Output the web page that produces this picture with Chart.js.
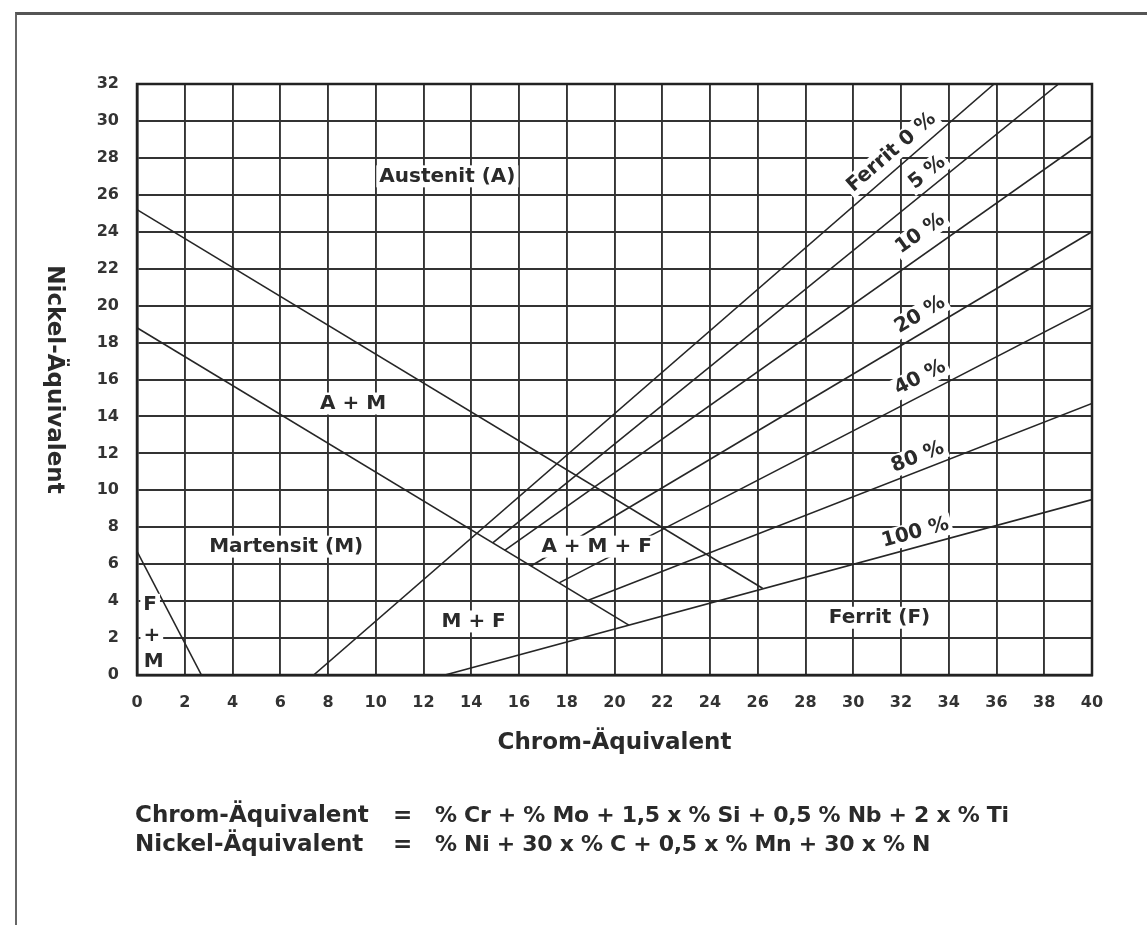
<!DOCTYPE html>
<html>
<head>
<meta charset="utf-8">
<script src="https://cdn.jsdelivr.net/npm/chart.js@4.4.1/dist/chart.umd.min.js"></script>
<style>
  html, body { margin: 0; padding: 0; background: #fff; }
  body { width: 1147px; height: 925px; position: relative; overflow: hidden; }
  #frame { position: absolute; left: 15px; top: 12px; width: 1200px; height: 1000px;
           border-left: 2px solid #666; border-top: 3px solid #555; }
  #c { position: absolute; left: 0; top: 0; }
  .f { position: absolute; font-family: "DejaVu Sans", sans-serif; font-weight: bold; font-size: 23px; color: #2a2a2a; white-space: pre; }
  .e { font-size: 22px; letter-spacing: -0.3px; }
</style>
</head>
<body>
<div id="frame"></div>
<canvas id="c" width="1147" height="925"></canvas>
<div class="f" style="left:135px; top:801px;">Chrom-Äquivalent</div>
<div class="f" style="left:393px; top:801px;">=</div>
<div class="f e" style="left:435px; top:802px;">% Cr + % Mo + 1,5 x % Si + 0,5 % Nb + 2 x % Ti</div>
<div class="f" style="left:135px; top:830px;">Nickel-Äquivalent</div>
<div class="f" style="left:393px; top:830px;">=</div>
<div class="f e" style="left:435px; top:831px;">% Ni + 30 x % C + 0,5 x % Mn + 30 x % N</div>
<script>
// ---- axis ticks ----
const xTicks = [0,2,4,6,8,10,12,14,16,18,20,22,24,26,28,30,32,34,36,38,40];
const yTicks = [0,2,4,6,8,10,12,14,16,18,20,22,24,26,28,30,32];

// ---- ferrite iso-lines (Chrom-Äq., Nickel-Äq.) ----
const ferritNames   = ['Ferrit 0 %', '5 %', '10 %', '20 %', '40 %', '80 %', '100 %'];
const ferritStartCr = [7.4, 14.9, 15.4, 16.5, 17.7, 18.9, 12.9];
const ferritStartNi = [0.0, 7.15, 6.75, 5.9, 5.0, 4.05, 0.0];
const ferritEndCr   = [35.9, 38.6, 40, 40, 40, 40, 40];
const ferritEndNi   = [32, 32, 29.2, 24.0, 19.9, 14.7, 9.5];
// label anchor of each ferrite line
const ferritLabelCr = [31.6, 33.1, 32.8, 32.8, 32.8, 32.7, 32.6];
const ferritLabelNi = [28.3, 27.2, 23.9, 19.5, 16.1, 11.8, 7.7];

// ---- phase boundaries ----
const austenitBoundaryCr = [0, 26.2];
const austenitBoundaryNi = [25.2, 4.7];
const martensitBoundaryCr = [0, 20.6];
const martensitBoundaryNi = [18.8, 2.7];
const fmBoundaryCr = [0, 2.7];
const fmBoundaryNi = [6.7, 0];

// ---- region labels ----
const regionNames = ['Austenit (A)', 'A + M', 'Martensit (M)', 'M + F', 'A + M + F', 'Ferrit (F)', 'F', '+', 'M'];
const regionCr    = [13.0, 9.05, 6.25, 14.1, 19.25, 31.1, 0.55, 0.62, 0.7];
const regionNi    = [27.0, 14.7, 6.95, 2.9, 6.95, 3.1, 3.8, 2.1, 0.7];

const lineColor = '#262626';
function seg(cr, ni) { return cr.map((v, i) => ({x: v, y: ni[i]})); }

const datasets = [];
ferritNames.forEach((n, i) => {
  datasets.push({ label: n, data: seg([ferritStartCr[i], ferritEndCr[i]], [ferritStartNi[i], ferritEndNi[i]]) });
});
datasets.push({ label: 'A / A+M', data: seg(austenitBoundaryCr, austenitBoundaryNi) });
datasets.push({ label: 'M / A+M', data: seg(martensitBoundaryCr, martensitBoundaryNi) });
datasets.push({ label: 'F+M', data: seg(fmBoundaryCr, fmBoundaryNi) });
datasets.forEach(d => Object.assign(d, {
  showLine: true, borderColor: lineColor, borderWidth: 1.6, pointRadius: 0, fill: false, tension: 0
}));

const FONT = '"DejaVu Sans", sans-serif';

function boxedText(ctx, text, px, py, angle, size) {
  ctx.save();
  ctx.translate(px, py);
  ctx.rotate(angle);
  ctx.font = 'bold ' + size + 'px ' + FONT;
  ctx.textAlign = 'center';
  ctx.textBaseline = 'middle';
  const w = ctx.measureText(text).width;
  ctx.fillStyle = '#fff';
  ctx.fillRect(-w / 2 - 3, -size * 0.55, w + 6, size * 1.1);
  ctx.fillStyle = '#2a2a2a';
  ctx.fillText(text, 0, 0);
  ctx.restore();
}

const labelPlugin = {
  id: 'diagramLabels',
  afterDatasetsDraw(chart) {
    const { ctx, scales: { x, y }, chartArea } = chart;
    regionNames.forEach((t, i) => {
      boxedText(ctx, t, x.getPixelForValue(regionCr[i]), y.getPixelForValue(regionNi[i]), 0, 20);
    });
    ferritNames.forEach((t, i) => {
      const x1 = x.getPixelForValue(ferritStartCr[i]), y1 = y.getPixelForValue(ferritStartNi[i]);
      const x2 = x.getPixelForValue(ferritEndCr[i]), y2 = y.getPixelForValue(ferritEndNi[i]);
      const ang = Math.atan2(y2 - y1, x2 - x1);
      boxedText(ctx, t, x.getPixelForValue(ferritLabelCr[i]), y.getPixelForValue(ferritLabelNi[i]), ang, 20);
    });
    // y axis title, reading top to bottom
    ctx.save();
    ctx.translate(54, (chartArea.top + chartArea.bottom) / 2);
    ctx.rotate(Math.PI / 2);
    ctx.font = 'bold 23px ' + FONT;
    ctx.fillStyle = '#2a2a2a';
    ctx.textAlign = 'center';
    ctx.textBaseline = 'middle';
    ctx.fillText('Nickel-Äquivalent', 0, 0);
    ctx.restore();
    // plot frame
    ctx.save();
    ctx.strokeStyle = '#222';
    ctx.lineWidth = 2.5;
    ctx.strokeRect(chartArea.left, chartArea.top, chartArea.right - chartArea.left, chartArea.bottom - chartArea.top);
    ctx.restore();
  }
};

new Chart(document.getElementById('c'), {
  type: 'scatter',
  data: { datasets },
  options: {
    responsive: false,
    animation: false,
    devicePixelRatio: 1,
    layout: { padding: { left: 0, top: 84, right: 55, bottom: 160 } },
    plugins: { legend: { display: false }, tooltip: { enabled: false } },
    scales: {
      x: {
        type: 'linear', min: 0, max: 40,
        afterBuildTicks: s => { s.ticks = xTicks.map(v => ({ value: v })); },
        afterFit: s => { s.height = 90; },
        grid: { color: '#333', lineWidth: 1.9, drawTicks: false },
        border: { display: true, color: '#222', width: 2.5 },
        ticks: { padding: 18, color: '#333', font: { family: FONT, size: 16, weight: 'bold' }, maxRotation: 0, autoSkip: false },
        title: { display: true, text: 'Chrom-Äquivalent', color: '#2a2a2a', font: { family: FONT, size: 23, weight: 'bold' }, padding: { top: 4, bottom: 8 } }
      },
      y: {
        type: 'linear', min: 0, max: 32,
        afterBuildTicks: s => { s.ticks = yTicks.map(v => ({ value: v })); },
        afterFit: s => { s.width = 137; },
        grid: { color: '#333', lineWidth: 1.9, drawTicks: false },
        border: { display: true, color: '#222', width: 2.5 },
        ticks: { padding: 18, color: '#333', font: { family: FONT, size: 16, weight: 'bold' }, autoSkip: false },
        title: { display: false }
      }
    }
  },
  plugins: [labelPlugin]
});
</script>
</body>
</html>
